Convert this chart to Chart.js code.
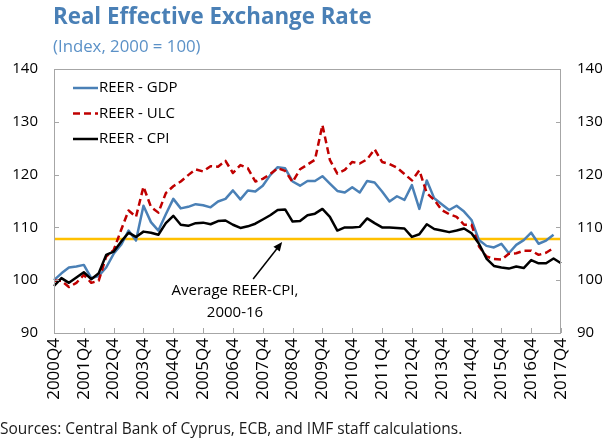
<!DOCTYPE html>
<html>
<head>
<meta charset="utf-8">
<script src="https://cdn.jsdelivr.net/npm/chart.js@4.4.0/dist/chart.umd.min.js"></script>
<style>
    body { margin: 0; width: 604px; height: 438px; background: #fff; overflow: hidden; font-family: "Open Sans", sans-serif; }
    #wrap { position: absolute; left: 0; top: 0; width: 604px; height: 438px; }
    .title { position: absolute; left: 53px; top: 0px; font-size: 22.3px; font-weight: bold; color: #4a80b6; white-space: nowrap; }
    .sub { position: absolute; left: 53px; top: 34px; font-size: 16.8px; color: #5b91c7; white-space: nowrap; }
    .src { position: absolute; left: 0; top: 417px; font-size: 15.5px; color: #1a1a1a; white-space: nowrap; }
</style>
</head>
<body>
<div id="wrap"><canvas id="reerChart" width="604" height="438"></canvas></div>
<div class="title">Real Effective Exchange Rate</div>
<div class="sub">(Index, 2000 = 100)</div>
<div class="src">Sources: Central Bank of Cyprus, ECB, and IMF staff calculations.</div>
<script>
const quarters = [
    '2000Q4',
    '2001Q1', '2001Q2', '2001Q3', '2001Q4',
    '2002Q1', '2002Q2', '2002Q3', '2002Q4',
    '2003Q1', '2003Q2', '2003Q3', '2003Q4',
    '2004Q1', '2004Q2', '2004Q3', '2004Q4',
    '2005Q1', '2005Q2', '2005Q3', '2005Q4',
    '2006Q1', '2006Q2', '2006Q3', '2006Q4',
    '2007Q1', '2007Q2', '2007Q3', '2007Q4',
    '2008Q1', '2008Q2', '2008Q3', '2008Q4',
    '2009Q1', '2009Q2', '2009Q3', '2009Q4',
    '2010Q1', '2010Q2', '2010Q3', '2010Q4',
    '2011Q1', '2011Q2', '2011Q3', '2011Q4',
    '2012Q1', '2012Q2', '2012Q3', '2012Q4',
    '2013Q1', '2013Q2', '2013Q3', '2013Q4',
    '2014Q1', '2014Q2', '2014Q3', '2014Q4',
    '2015Q1', '2015Q2', '2015Q3', '2015Q4',
    '2016Q1', '2016Q2', '2016Q3', '2016Q4',
    '2017Q1', '2017Q2', '2017Q3', '2017Q4'
];

const reerGdp = [
    100.0,
    101.3, 102.4, 102.6, 102.9,
    100.4, 100.8, 102.4, 105.0,
    106.7, 109.4, 107.5, 114.1,
    111.0, 109.4, 112.5, 115.4,
    113.6, 113.9, 114.4, 114.2,
    113.8, 114.9, 115.4, 117.0,
    115.3, 117.0, 116.8, 117.9,
    119.9, 121.4, 121.2, 118.7,
    117.9, 118.8, 118.8, 119.7,
    118.3, 116.9, 116.6, 117.6,
    116.6, 118.8, 118.5, 116.8,
    114.9, 115.9, 115.2, 118.0,
    113.5, 118.9, 115.5, 114.4,
    113.3, 114.1, 113.0, 111.4,
    107.6, 106.5, 106.2, 106.9,
    105.1, 106.7, 107.6, 109.0,
    106.9, 107.5, 108.6, null
];

const reerUlc = [
    99.9,
    99.9, 98.7, 99.5, 101.0,
    99.5, 99.9, 104.5, 105.7,
    109.5, 113.2, 112.0, 117.7,
    113.9, 112.8, 116.5, 117.8,
    118.7, 119.9, 121.0, 120.6,
    121.6, 121.5, 122.6, 120.3,
    121.8, 121.2, 118.7, 119.2,
    120.1, 121.2, 120.7, 118.6,
    121.0, 121.9, 122.8, 129.4,
    122.8, 120.2, 120.9, 122.4,
    122.1, 122.9, 124.8, 122.4,
    122.0, 121.3, 120.1, 118.9,
    120.8, 116.5, 115.2, 113.3,
    112.5, 112.0, 110.5, 110.5,
    106.4, 104.5, 104.0, 103.9,
    105.0, 105.1, 105.6, 105.6,
    104.8, 105.2, 106.1, null
];

const reerCpi = [
    98.9,
    100.4, 99.5, 100.5, 101.5,
    100.2, 101.3, 104.8, 105.4,
    107.3, 109.0, 108.2, 109.2,
    109.0, 108.6, 110.8, 112.2,
    110.5, 110.3, 110.8, 110.9,
    110.6, 111.2, 111.3, 110.5,
    109.9, 110.2, 110.7, 111.5,
    112.3, 113.3, 113.4, 111.1,
    111.2, 112.3, 112.6, 113.5,
    112.0, 109.4, 110.0, 110.0,
    110.1, 111.7, 110.8, 110.0,
    110.0, 109.9, 109.8, 108.2,
    108.7, 110.6, 109.7, 109.4,
    109.1, 109.4, 109.8, 108.9,
    106.9, 104.1, 102.7, 102.4,
    102.2, 102.6, 102.3, 103.8,
    103.2, 103.2, 104.1, 103.2
];

// average REER-CPI, 2000-16
const avgCpi = 107.8;
const yTicks = [90, 100, 110, 120, 130, 140];

const BLUE = '#4a80b6';
const RED = '#c00000';
const BLACK = '#000000';
const GOLD = '#ffc000';
const FRAME = '#a6a6a6';

const legendItems = [
    { text: 'REER - GDP', color: BLUE, dash: [] },
    { text: 'REER - ULC', color: RED, dash: [7, 4] },
    { text: 'REER - CPI', color: BLACK, dash: [] }
];

const extras = {
    id: 'extras',
    beforeDatasetsDraw(chart) {
        const { ctx, chartArea: a, scales: { y } } = chart;
        const yy = y.getPixelForValue(avgCpi);
        ctx.save();
        ctx.strokeStyle = GOLD;
        ctx.lineWidth = 2.5;
        ctx.beginPath();
        ctx.moveTo(a.left, yy);
        ctx.lineTo(a.right, yy);
        ctx.stroke();
        ctx.restore();
    },
    afterDraw(chart) {
        const { ctx, chartArea: a, scales: { x, y } } = chart;
        ctx.save();

        // frame and inward tick marks
        ctx.strokeStyle = FRAME;
        ctx.lineWidth = 1;
        ctx.strokeRect(a.left + 0.5, a.top + 0.5, a.right - a.left - 1, a.bottom - a.top);
        ctx.beginPath();
        yTicks.forEach(v => {
            const py = Math.round(y.getPixelForValue(v)) + 0.5;
            ctx.moveTo(a.left, py); ctx.lineTo(a.left + 5, py);
            ctx.moveTo(a.right - 5, py); ctx.lineTo(a.right, py);
        });
        quarters.forEach((q, i) => {
            if (i % 4 !== 0) return;
            const px = Math.round(x.getPixelForValue(i)) + 0.5;
            ctx.moveTo(px, a.bottom); ctx.lineTo(px, a.bottom - 5);
        });
        ctx.stroke();

        // legend
        ctx.font = '15px "Open Sans", sans-serif';
        ctx.textBaseline = 'middle';
        ctx.textAlign = 'left';
        legendItems.forEach((item, k) => {
            const ly = 88 + k * 25.5;
            ctx.strokeStyle = item.color;
            ctx.lineWidth = 2.5;
            ctx.setLineDash(item.dash);
            ctx.beginPath();
            ctx.moveTo(73, ly);
            ctx.lineTo(98, ly);
            ctx.stroke();
            ctx.setLineDash([]);
            ctx.fillStyle = '#000';
            ctx.fillText(item.text, 99, ly);
        });

        // annotation arrow
        const tipX = x.getPixelForValue(30.6);
        const tipY = y.getPixelForValue(avgCpi) + 3;
        const fromX = tipX - 29, fromY = tipY + 37;
        const ang = Math.atan2(tipY - fromY, tipX - fromX);
        ctx.strokeStyle = '#000';
        ctx.fillStyle = '#000';
        ctx.lineWidth = 1.5;
        ctx.beginPath();
        ctx.moveTo(fromX, fromY);
        ctx.lineTo(tipX - 6 * Math.cos(ang), tipY - 6 * Math.sin(ang));
        ctx.stroke();
        ctx.beginPath();
        ctx.moveTo(tipX, tipY);
        ctx.lineTo(tipX - 9 * Math.cos(ang) + 4 * Math.sin(ang), tipY - 9 * Math.sin(ang) - 4 * Math.cos(ang));
        ctx.lineTo(tipX - 9 * Math.cos(ang) - 4 * Math.sin(ang), tipY - 9 * Math.sin(ang) + 4 * Math.cos(ang));
        ctx.closePath();
        ctx.fill();

        ctx.textAlign = 'center';
        ctx.fillText('Average REER-CPI,', 235, 291);
        ctx.fillText('2000-16', 235, 313);

        ctx.restore();
    }
};

Chart.defaults.font.family = '"Open Sans", sans-serif';
Chart.defaults.font.size = 15;
Chart.defaults.color = '#000';

const ctx = document.getElementById('reerChart').getContext('2d');
new Chart(ctx, {
    type: 'line',
    data: {
        labels: quarters,
        datasets: [
            { label: 'REER - GDP', data: reerGdp, borderColor: BLUE, borderWidth: 2.5, order: 3 },
            { label: 'REER - ULC', data: reerUlc, borderColor: RED, borderWidth: 2.5, borderDash: [7, 4], order: 2 },
            { label: 'REER - CPI', data: reerCpi, borderColor: BLACK, borderWidth: 2.5, order: 1 }
        ]
    },
    options: {
        responsive: false,
        animation: false,
        layout: { padding: { top: 69, left: 0, right: 0, bottom: 0 } },
        elements: {
            point: { radius: 0, hoverRadius: 0 },
            line: { tension: 0, borderJoinStyle: 'round', fill: false }
        },
        plugins: {
            legend: { display: false },
            tooltip: { enabled: false }
        },
        scales: {
            x: {
                offset: false,
                grid: { display: false, drawTicks: false },
                border: { display: false },
                afterFit(scale) { scale.height = 105; },
                ticks: {
                    autoSkip: false,
                    maxRotation: 90,
                    minRotation: 90,
                    padding: 5,
                    font: { size: 17 },
                    callback: (val, i) => (i % 4 === 0 ? quarters[i] : '')
                }
            },
            y: {
                position: 'left',
                min: 90,
                max: 140,
                grid: { display: false, drawTicks: false },
                border: { display: false },
                afterFit(scale) { scale.width = 54; },
                ticks: { stepSize: 10, padding: 16 }
            },
            y2: {
                position: 'right',
                min: 90,
                max: 140,
                grid: { display: false, drawTicks: false },
                border: { display: false },
                afterFit(scale) { scale.width = 43; },
                ticks: { stepSize: 10, padding: 16 }
            }
        }
    },
    plugins: [extras]
});
</script>
</body>
</html>
